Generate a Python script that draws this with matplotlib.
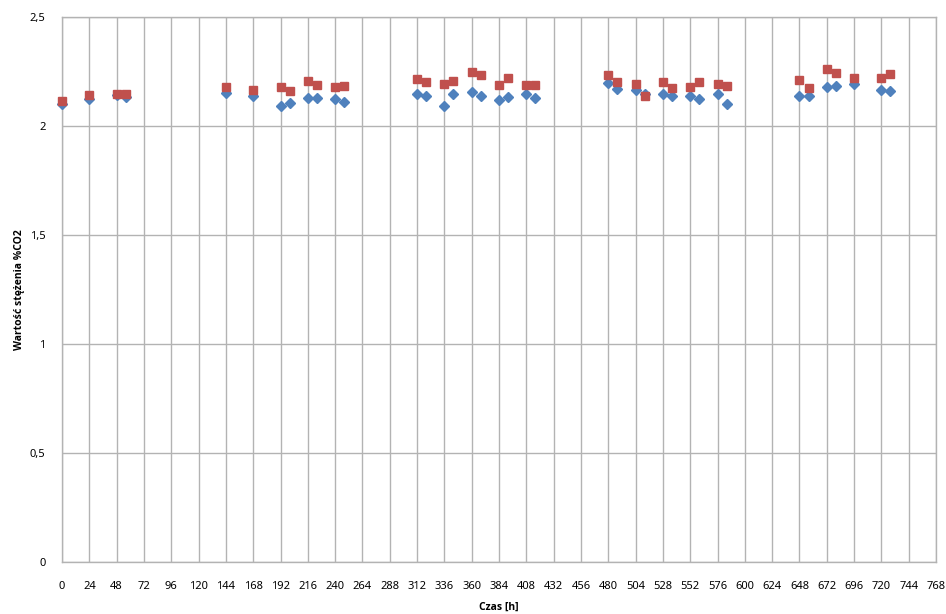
import matplotlib
matplotlib.use("Agg")
import matplotlib.pyplot as plt
from matplotlib.ticker import MultipleLocator, FuncFormatter

# Pomiary stężenia CO2 w czasie (dwie serie)
czas_h = [0, 24, 48, 56, 144, 168, 192, 200, 216, 224, 240, 248,
          312, 320, 336, 344, 360, 368, 384, 392, 408, 416,
          480, 488, 504, 512, 528, 536, 552, 560, 576, 584,
          648, 656, 672, 680, 696, 720, 728]
seria_1 = [2.101, 2.124, 2.143, 2.135, 2.151, 2.136, 2.090, 2.106, 2.130, 2.130, 2.124, 2.112,
           2.148, 2.138, 2.090, 2.147, 2.156, 2.136, 2.118, 2.135, 2.145, 2.127,
           2.196, 2.171, 2.167, 2.145, 2.145, 2.138, 2.138, 2.124, 2.145, 2.099,
           2.136, 2.139, 2.177, 2.182, 2.193, 2.167, 2.162]
seria_2 = [2.113, 2.141, 2.148, 2.147, 2.179, 2.163, 2.177, 2.159, 2.206, 2.188, 2.179, 2.183,
           2.217, 2.203, 2.194, 2.205, 2.249, 2.235, 2.188, 2.219, 2.188, 2.188,
           2.234, 2.200, 2.193, 2.139, 2.202, 2.176, 2.179, 2.200, 2.193, 2.183,
           2.210, 2.173, 2.263, 2.243, 2.219, 2.219, 2.239]

plt.rcParams['font.family'] = ['Noto Sans', 'DejaVu Sans']

fig = plt.figure(figsize=(9.46, 6.14), dpi=100)
ax = fig.add_axes([62 / 946, 1 - 562 / 614, 874 / 946, 545 / 614])

ax.plot(czas_h, seria_1, linestyle='none', marker='D', markersize=4.6,
        color='#4F81BD', zorder=3, clip_on=False)
ax.plot(czas_h, seria_2, linestyle='none', marker='s', markersize=6.4,
        color='#C0504D', zorder=4, clip_on=False)

ax.set_xlim(0, 768)
ax.set_ylim(0, 2.5)
ax.xaxis.set_major_locator(MultipleLocator(24))
ax.yaxis.set_major_locator(MultipleLocator(0.5))
ax.yaxis.set_major_formatter(FuncFormatter(lambda v, p: f"{v:g}".replace('.', ',')))

ax.grid(True, color='#B3B3B3', linewidth=1.0)
ax.set_axisbelow(True)
for s in ax.spines.values():
    s.set_color('#B3B3B3')
    s.set_linewidth(1.0)
ax.tick_params(length=0, labelsize=8, colors='#000000')
ax.tick_params(axis='x', pad=14)
ax.tick_params(axis='y', pad=12)

# podpisy osi pogrubione
bold = dict(fontsize=7.5, fontweight='bold', family=['Open Sans', 'Liberation Sans', 'DejaVu Sans'])
ax.set_xlabel('Czas [h]', labelpad=7, **bold)
ax.set_ylabel('Wartość stężenia %CO2', labelpad=3, **bold)

fig.savefig('out.png', dpi=100)
